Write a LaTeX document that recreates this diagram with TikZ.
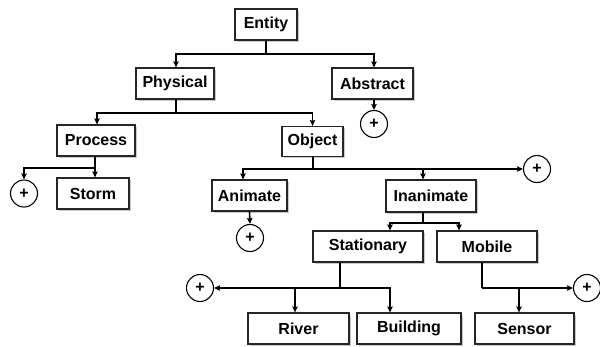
\documentclass[tikz,border=0pt]{standalone}
\usepackage{fontspec}
\setmainfont{Liberation Sans}
\usetikzlibrary{arrows.meta,shadows}
\begin{document}
\begin{tikzpicture}[x=1pt,y=-1pt,
  box/.style={draw=black!85,line width=1.2pt,fill=white,inner sep=0pt,
    font=\fontsize{16}{18}\selectfont\bfseries,
    drop shadow={shadow xshift=1.5pt,shadow yshift=-1.5pt,fill=gray!70,opacity=0.6}},
  plus/.style={draw=black,line width=1.1pt,circle,fill=white,minimum size=27pt,inner sep=0pt,
    font=\fontsize{16}{18}\selectfont\bfseries},
  conn/.style={line width=1.6pt,draw=black},
  arr/.style={conn,-{Stealth[length=6pt,width=5.5pt,inset=1pt]}}]
\useasboundingbox (0,0) rectangle (600,346);
% boxes
\node[box,minimum width=62pt,minimum height=31pt] (entity) at (266,24.5) {Entity};
\node[box,minimum width=78pt,minimum height=31pt] (physical) at (175,83.5) {Physical};
\node[box,minimum width=81pt,minimum height=31pt] (abstract) at (372.5,83.5) {Abstract};
\node[box,minimum width=78pt,minimum height=31pt] (process) at (96,140.5) {Process};
\node[box,minimum width=61pt,minimum height=30pt] (object) at (312.5,141.5) {Object};
\node[box,minimum width=72pt,minimum height=31pt] (storm) at (93,193.5) {Storm};
\node[box,minimum width=75pt,minimum height=31pt] (animate) at (249.5,195.5) {Animate};
\node[box,minimum width=90pt,minimum height=32pt] (inanimate) at (431,196) {Inanimate};
\node[box,minimum width=110pt,minimum height=31pt] (stationary) at (368,246.5) {Stationary};
\node[box,minimum width=100pt,minimum height=31pt] (mobile) at (487,246.5) {Mobile};
\node[box,minimum width=101pt,minimum height=31pt] (river) at (298.5,328.5) {River};
\node[box,minimum width=104pt,minimum height=31pt] (building) at (409,328.5) {Building};
\node[box,minimum width=99pt,minimum height=31pt] (sensor) at (524.5,328.5) {Sensor};
% plus circles
\node[plus] (pabs) at (374,124) {+};
\node[plus] (pproc) at (24,193.5) {+};
\node[plus] (pobj) at (537,169) {+};
\node[plus] (panim) at (250,238) {+};
\node[plus] (pstat) at (200,288) {+};
\node[plus] (pmob) at (587,288) {+};
% junctions
\coordinate (jE) at (266,54);
\coordinate (jP) at (176,113);
\coordinate (jPr) at (95,168);
\coordinate (jO) at (313,169);
\coordinate (jI) at (423,223);
\coordinate (jS) at (340,288);
\coordinate (jM) at (482,288);
% connectors
\draw[conn] (entity.south -| jE) -- (jE);
\draw[arr] (jE) -| ([xshift=1pt]physical.north);
\draw[arr] (jE) -| ([xshift=1.5pt]abstract.north);
\draw[arr] ([xshift=1.5pt]abstract.south) -- (pabs.north);
\draw[conn] (physical.south -| jP) -- (jP);
\draw[arr] (jP) -| ([xshift=1pt]process.north);
\draw[arr] (jP) -| (object.north);
\draw[conn] (process.south -| jPr) -- (jPr);
\draw[arr] (jPr) -| (pproc.north);
\draw[arr] (jPr) -| (storm.north -| jPr);
\draw[conn] (object.south -| jO) -- (jO);
\draw[arr] (jO) -| ([xshift=-6.5pt]animate.north);
\draw[arr] (jO) -| ([xshift=-8pt]inanimate.north);
\draw[arr] (jO) -- (pobj.west);
\draw[arr] (animate.south) -- (panim.north);
\draw[conn] (inanimate.south -| jI) -- (jI);
\draw[arr] (jI) -| ([xshift=22pt]stationary.north);
\draw[arr] (jI) -| ([xshift=-28pt]mobile.north);
\draw[conn] (stationary.south -| jS) -- (jS);
\draw[arr] (jS) -- (pstat.east);
\draw[arr] (jS) -| ([xshift=-3.5pt]river.north);
\draw[arr] (jS) -| ([xshift=-19pt]building.north);
\draw[conn] (mobile.south -| jM) -- (jM);
\draw[arr] (jM) -- (pmob.west);
\draw[arr] (jM) -| ([xshift=-5.5pt]sensor.north);
\end{tikzpicture}
\end{document}
